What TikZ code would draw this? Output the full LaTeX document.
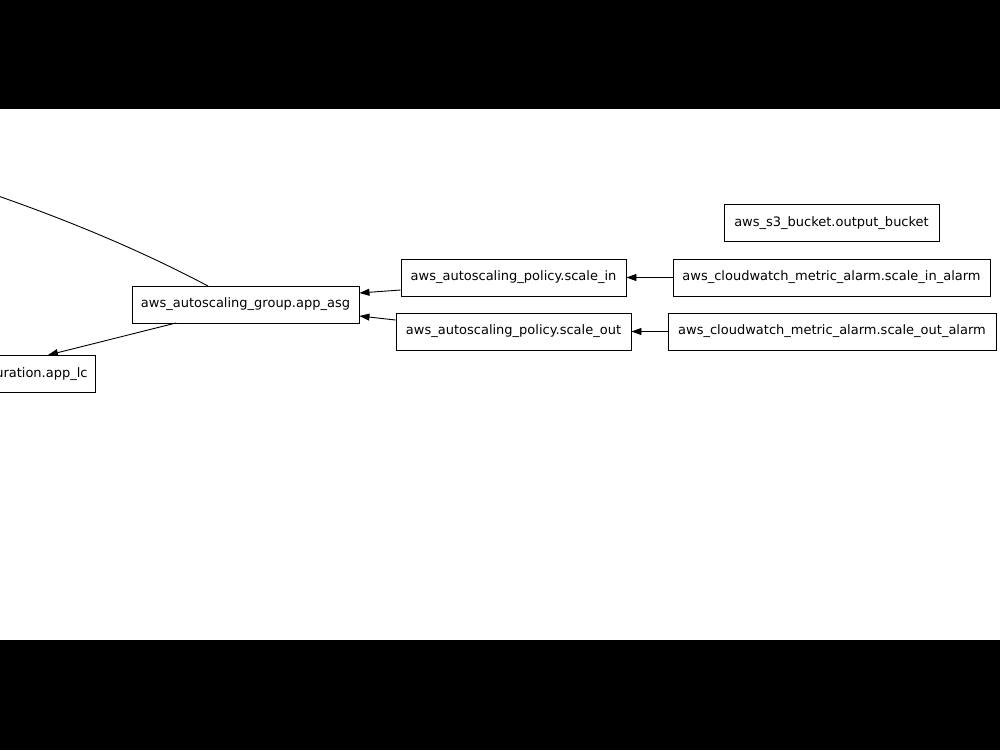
\documentclass[tikz,border=0pt]{standalone}
\usepackage{fontspec}
\setmainfont{DejaVu Sans}
\usetikzlibrary{arrows.meta}
\begin{document}
\begin{tikzpicture}[x=1pt,y=-1pt,
  res/.style={draw,line width=0.9pt,rectangle,minimum height=37pt,inner xsep=8pt,inner ysep=0pt,font=\fontsize{13}{15}\selectfont},
  dep/.style={line width=0.9pt,-{Triangle[length=10pt,width=7pt]}},
  plain/.style={line width=0.9pt}]
\useasboundingbox (0,0) rectangle (1000,750);
\fill[black] (0,0) rectangle (1000,750);
\fill[white] (0,109) rectangle (1000,640);
\clip (0,109) rectangle (1000,640);
\node[res,minimum width=227pt] (asg) at (245.5,304.5) {aws\_autoscaling\_group.app\_asg};
\node[res,anchor=east] (lc) at (96,374) {aws\_launch\_configuration.app\_lc};
\node[res,minimum width=225pt] (pin) at (513.5,277.5) {aws\_autoscaling\_policy.scale\_in};
\node[res,minimum width=235pt] (pout) at (513.5,331.5) {aws\_autoscaling\_policy.scale\_out};
\node[res,minimum width=215pt] (s3) at (831.5,223) {aws\_s3\_bucket.output\_bucket};
\node[res,minimum width=317pt] (ain) at (831.5,277.5) {aws\_cloudwatch\_metric\_alarm.scale\_in\_alarm};
\node[res,minimum width=328pt] (aout) at (832,331.5) {aws\_cloudwatch\_metric\_alarm.scale\_out\_alarm};
\coordinate (far) at (-40,183);
\draw[dep] (ain) -- (pin);
\draw[dep] (aout) -- (pout);
\draw[dep] (pin.west |- 0,290) -- (asg.east |- 0,293);
\draw[dep] (pout.west |- 0,320) -- (asg.east |- 0,316);
\draw[dep] (176,323) -- (lc.north east -| 48,0);
\draw[plain] (208,286) .. controls (140,250) and (60,216) .. (far);
\end{tikzpicture}
\end{document}
